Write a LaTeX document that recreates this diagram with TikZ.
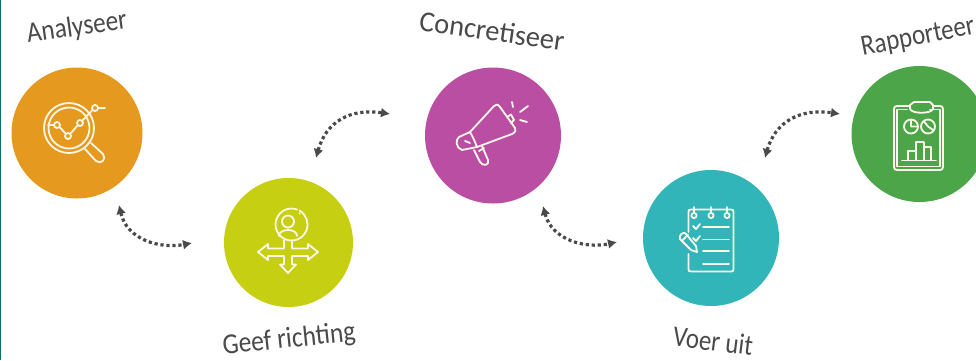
\documentclass[tikz,border=0pt]{standalone}
\usepackage{fontspec}
\setmainfont{Carlito}
\usetikzlibrary{arrows.meta}
\definecolor{cOrange}{HTML}{E59A1F}
\definecolor{cLime}{HTML}{C6CF12}
\definecolor{cPurple}{HTML}{BA4EA3}
\definecolor{cTeal}{HTML}{31B5B8}
\definecolor{cGreen}{HTML}{4CA548}
\definecolor{cInk}{HTML}{4A4A4C}
\definecolor{cEdge}{HTML}{0F6E68}
\definecolor{cIcon}{HTML}{FBF6EA}
\tikzset{
  disc/.style={circle,inner sep=0pt,minimum size=#1},
  lbl/.style={text=cInk,font=\fontsize{29}{30}\selectfont,inner sep=0pt,anchor=center},
  link/.style={cInk,line width=3.2pt,dash pattern=on 3.2pt off 2.8pt,
    {Latex[length=9pt,width=10pt]}-{Latex[length=9pt,width=10pt]}},
  ico/.style={cIcon,line width=1.8pt,line cap=round,line join=round}
}
\begin{document}
\begin{tikzpicture}[x=1pt,y=-1pt]
\useasboundingbox (0,0) rectangle (976,360);
\clip (0,0) rectangle (976,360);
\fill[white] (0,0) rectangle (976,360);
\fill[cEdge] (0,0) rectangle (1.2,360);

\node[disc=131pt,fill=cOrange] (a) at (77,133) {};
\node[disc=129pt,fill=cLime] (g) at (288.5,242.5) {};
\node[disc=136pt,fill=cPurple] (c) at (493,135.5) {};
\node[disc=136pt,fill=cTeal] (v) at (711,238) {};
\node[disc=136pt,fill=cGreen] (r) at (919.5,134) {};

\node[lbl,rotate=8,xscale=.87] (la) at (77,28) {Analyseer};
\node[lbl,rotate=6,xscale=.88] (lg) at (289,340) {Geef richting};
\node[lbl,rotate=-8,xscale=.98] (lc) at (492,31) {Concretiseer};
\node[lbl,rotate=-7,xscale=.86] (lv) at (713,341) {Voer uit};
\node[lbl,rotate=11,xscale=.86] (lr) at (918,38) {Rapporteer};

\coordinate (a1) at (119,205); \coordinate (a2) at (192,243);
\coordinate (b1) at (316,158); \coordinate (b2) at (390,114);
\coordinate (c1) at (543,206); \coordinate (c2) at (617,242);
\coordinate (d1) at (765,158); \coordinate (d2) at (840,114);
\draw[link] (a1) .. controls (127,240) and (160,249) .. (a2);
\draw[link] (b1) .. controls (326,122) and (350,108) .. (b2);
\draw[link] (c1) .. controls (552,240) and (585,249) .. (c2);
\draw[link] (d1) .. controls (775,122) and (800,108) .. (d2);

% magnifier
\draw[ico] (69,128) circle (25) (69,128) circle (20.5);
\draw[ico] (85,149) -- (96,161) .. controls (101,165) and (107,159) .. (103,154) -- (91,143);
\draw[ico] (48,125) -- (54,125) (60,127.5) -- (65.5,133.5) (70.5,133.5) -- (77.5,125.5) (82,121) -- (92,110.5) (98,108) -- (105,108);
\foreach \p/\q in {57/125,68/136,80/123,95/108}
  \draw[ico] (\p,\q) circle (3);

% person and arrows
\draw[ico] (297,209.5) arc (-70:-420:16);
\fill[cIcon] (299.5,213.5) circle (1);
\draw[ico] (288,221.5) circle (6);
\draw[ico] (279,236) .. controls (279,228) and (297,228) .. (297,236);
\draw[ico] (284,240) -- (284,248.5) -- (268,248.5) -- (268,244) -- (258,252) -- (268,260) -- (268,256) -- (284,256) -- (284,264.5) -- (280,264.5) -- (288,273) -- (296,264.5) -- (292,264.5) -- (292,256) -- (308,256) -- (308,260) -- (318,252) -- (308,244) -- (308,248.5) -- (292,248.5) -- (292,240);

% megaphone
\draw[ico] (470,132) -- (459,137) .. controls (455,140) and (456,148) .. (462,150) -- (477,147) -- (512,134) .. controls (516,132) and (516,130) .. (515,128) -- (500,107) .. controls (498,104) and (496,104) .. (494,106) -- (470,132) .. controls (473,137) and (475,142) .. (477,147);
\draw[ico] (474,150) -- (480,162) .. controls (483,167) and (490,165) .. (488,160) -- (482,146);
\draw[ico] (479,151) -- (484,148);
\draw[ico] (507,117) -- (511,114.5) -- (514,120) -- (511,123);
\draw[ico] (465,141) -- (470,143);
\draw[ico] (513,107) -- (512,102) (520,112) -- (528,106) (520,120) -- (527,122);

% notepad
\draw[ico] (688.5,232) -- (688.5,212) .. controls (688.5,210) and (689,209.5) .. (691,209.5) -- (731,209.5) .. controls (733,209.5) and (733.5,210) .. (733.5,212) -- (733.5,269) .. controls (733.5,271) and (733,271.5) .. (731,271.5) -- (691,271.5) .. controls (689,271.5) and (688.5,271) .. (688.5,269) -- (688.5,254);
\foreach \p in {694,711,727}{
  \draw[ico] (\p,215.5) circle (2.6);
  \draw[ico] (\p,212.5) -- (\p,207);
}
\draw[ico] (703,227) -- (729,227) (703,239.5) -- (729,239.5) (703,251) -- (729,251) (703,264) -- (729,264);
\draw[ico] (693,226) -- (696,229) -- (700,224);
\draw[ico] (693,238) -- (696,241) -- (700,236);
\draw[ico] (680,236) .. controls (681,233) and (685,232) .. (686,234) -- (696,246) -- (697,252) -- (691,250) -- (680,239) -- cycle;
\draw[ico] (682,241) -- (688,234.5);

% clipboard
\draw[ico] (897,106) -- (940,106) .. controls (942,106) and (943,107) .. (943,109) -- (943,167) .. controls (943,169) and (942,170) .. (940,170) -- (897,170) .. controls (895,170) and (894,169) .. (894,167) -- (894,109) .. controls (894,107) and (895,106) .. (897,106) -- cycle;
\draw[cGreen,line width=6pt] (911,106) -- (932,106);
\draw[ico] (907,109.5) -- (897,109.5) -- (897,166.5) -- (940,166.5) -- (940,109.5) -- (930,109.5);
\draw[ico] (910,109) -- (910,105) -- (914,102) -- (930,102) -- (933,105) -- (933,109) .. controls (931,114) and (912,114) .. (910,109) -- cycle;
\draw[ico] (911,126.5) circle (7) (928,126.5) circle (7);
\draw[ico] (911,126.5) -- (911,120) (911,126.5) -- (917.5,126.5) (928,126.5) -- (924,121.5) (928,126.5) -- (933,130);
\draw[ico] (902,160.5) -- (936,160.5);
\draw[ico] (908,160) -- (908,151) -- (916,151) -- (916,160) (916,151) -- (916,142) -- (924,142) -- (924,160) (924,147) -- (931,147) -- (931,160);
\end{tikzpicture}
\end{document}
